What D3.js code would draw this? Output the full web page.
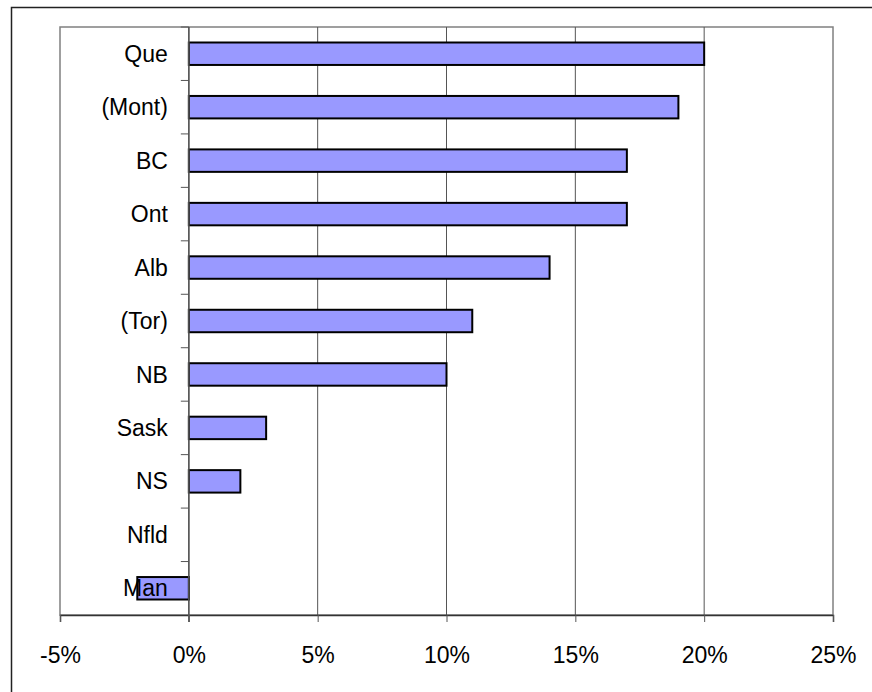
<!DOCTYPE html>
<html><head><meta charset="utf-8">
<script src="https://cdn.jsdelivr.net/npm/d3@7"></script>
<style>body{margin:0;background:#fff}svg{display:block}</style>
</head><body>
<script>
const categories = ["Que","(Mont)","BC","Ont","Alb","(Tor)","NB","Sask","NS","Nfld","Man"];
const values = [20,19,17,17,14,11,10,3,2,0,-2];
const tickValues = [-5,0,5,10,15,20,25];

const W = 872, H = 692;
const svg = d3.select("body").append("svg").attr("width",W).attr("height",H);
const font = "'Liberation Sans', Arial, sans-serif";

svg.append("rect").attr("x",11.5).attr("y",7.5).attr("width",W).attr("height",H)
  .attr("fill","none").attr("stroke","#222").attr("stroke-width",1.5);

const L = 60, R = 833, T = 27, B = 615;
const x = d3.scaleLinear().domain([-5,25]).range([L,R]);
const y = d3.scaleBand().domain(categories).range([T,B]).paddingInner(0.58).paddingOuter(0.29);
const yb = d3.scaleBand().domain(categories).range([T,B]);

// plot area border
svg.append("rect").attr("x",L).attr("y",T).attr("width",R-L).attr("height",B-T)
  .attr("fill","none").attr("stroke","#808080").attr("stroke-width",1.5);

// gridlines
svg.append("g").selectAll("line").data(tickValues.slice(1,-1)).join("line")
  .attr("x1",d=>x(d)).attr("x2",d=>x(d)).attr("y1",T).attr("y2",B)
  .attr("stroke","#555").attr("stroke-width",1);

// x axis
const xAxis = d3.axisBottom(x).tickValues(tickValues).tickFormat(d=>d+"%").tickSize(7).tickPadding(25);
const gx = svg.append("g").attr("transform",`translate(0,${B})`).call(xAxis);
gx.select(".domain").attr("stroke","#333").attr("stroke-width",1.5);
gx.selectAll(".tick line").attr("stroke","#555");
gx.selectAll("text").attr("font-family",font).attr("font-size",23).attr("fill","#000");

// bars
svg.append("g").selectAll("rect").data(values).join("rect")
  .attr("x",(d)=>x(Math.min(0,d)))
  .attr("y",(d,i)=>y(categories[i]))
  .attr("width",d=>Math.abs(x(d)-x(0)))
  .attr("height",y.bandwidth())
  .attr("fill","#9999FF").attr("stroke","#000").attr("stroke-width",2)
  .attr("display",d=>d===0?"none":null);

// y axis at 0
const gy = svg.append("g").attr("transform",`translate(${x(0)},0)`);
gy.append("line").attr("x1",0).attr("x2",0).attr("y1",T).attr("y2",B+7).attr("stroke","#555").attr("stroke-width",1.5);
const bounds = categories.map(c=>yb(c));
gy.selectAll("line.tk").data(bounds).join("line").attr("class","tk")
  .attr("x1",-8).attr("x2",0).attr("y1",d=>d).attr("y2",d=>d).attr("stroke","#555");
gy.selectAll("text").data(categories).join("text")
  .attr("x",-21).attr("y",c=>yb(c)+yb.bandwidth()/2).attr("dy","0.35em")
  .attr("text-anchor","end").attr("font-family",font).attr("font-size",23).attr("fill","#000")
  .text(c=>c);
</script>
</body></html>
